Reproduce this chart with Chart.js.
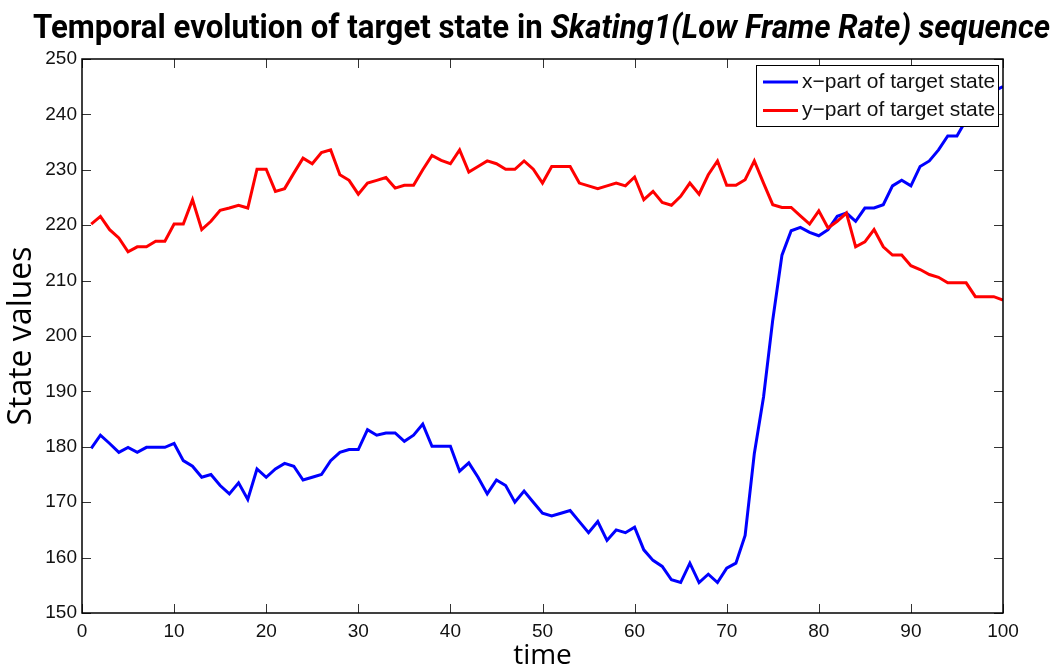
<!DOCTYPE html>
<html>
<head>
<meta charset="utf-8">
<script src="https://cdn.jsdelivr.net/npm/chart.js@4.4.1/dist/chart.umd.min.js"></script>
<style>
  html, body { margin: 0; padding: 0; background: #fff; }
</style>
</head>
<body>
<canvas id="myChart" width="1057" height="670"></canvas>
<script>
// frame index 1..100
let frames = Array.from({ length: 100 }, (_, i) => i + 1);

let xPart = [
  179.7, 182.1, 180.6, 179.0, 179.9, 179.0, 179.9, 179.9, 179.9, 180.6,
  177.5, 176.5, 174.5, 175.0, 173.0, 171.5, 173.5, 170.5, 176.0, 174.5,
  176.0, 177.0, 176.5, 174.0, 174.5, 175.0, 177.5, 179.0, 179.5, 179.5,
  183.1, 182.1, 182.5, 182.5, 181.0, 182.1, 184.1, 180.1, 180.1, 180.1,
  175.6, 177.1, 174.5, 171.5, 174.0, 173.0, 170.0, 172.0, 170.0, 168.0,
  167.5, 168.0, 168.5, 166.5, 164.5, 166.5, 163.1, 165.0, 164.5, 165.5,
  161.4, 159.5, 158.4, 156.0, 155.5, 159.0, 155.5, 157.0, 155.5, 158.1,
  159.0, 164.0, 178.8, 189.0, 202.9, 214.6, 219.0, 219.6, 218.7, 218.1,
  219.2, 221.6, 222.2, 220.7, 223.1, 223.1, 223.7, 227.1, 228.1, 227.1,
  230.6, 231.6, 233.6, 236.1, 236.1, 239.0, 241.0, 243.0, 244.2, 245.0
];

let yPart = [
  220.2, 221.6, 219.2, 217.7, 215.2, 216.1, 216.1, 217.1, 217.1, 220.2,
  220.2, 224.6, 219.2, 220.7, 222.7, 223.1, 223.6, 223.1, 230.1, 230.1,
  226.1, 226.6, 229.4, 232.1, 231.1, 233.1, 233.6, 229.1, 228.1, 225.6,
  227.6, 228.1, 228.6, 226.7, 227.2, 227.2, 230.0, 232.6, 231.7, 231.1,
  233.6, 229.6, 230.6, 231.6, 231.1, 230.1, 230.1, 231.6, 230.1, 227.6,
  230.6, 230.6, 230.6, 227.6, 227.1, 226.6, 227.1, 227.6, 227.1, 228.7,
  224.6, 226.1, 224.1, 223.6, 225.2, 227.6, 225.6, 229.1, 231.6, 227.2,
  227.2, 228.2, 231.6, 227.6, 223.7, 223.2, 223.2, 221.7, 220.2, 222.6,
  219.5, 220.7, 222.2, 216.1, 217.0, 219.2, 216.1, 214.6, 214.6, 212.7,
  212.0, 211.1, 210.6, 209.6, 209.6, 209.6, 207.1, 207.1, 207.1, 206.5
];

let titlePlain = "Temporal evolution of target state in ";
let titleItalic = "Skating1(Low Frame Rate) sequence";

let tickFont = { family: "Liberation Sans", size: 19 };
let legendFont = { family: "Liberation Sans", size: 21 };

function toPoints(values) {
  return values.map((v, i) => ({ x: frames[i], y: v }));
}

// two-style heading squeezed to the figure width
let headingPlugin = {
  id: "heading",
  afterDraw(chart) {
    let ctx = chart.ctx;
    ctx.save();
    ctx.fillStyle = "#000";
    ctx.textBaseline = "alphabetic";
    let size = 34;
    ctx.font = "bold " + size + "px Roboto";
    let w1 = ctx.measureText(titlePlain).width;
    ctx.font = "italic bold " + size + "px Roboto";
    let w2 = ctx.measureText(titleItalic).width;
    let sx = 1017 / (w1 + w2);
    ctx.translate(33, 38);
    ctx.scale(sx, 1);
    ctx.font = "bold " + size + "px Roboto";
    ctx.fillText(titlePlain, 0, 0);
    ctx.font = "italic bold " + size + "px Roboto";
    ctx.fillText(titleItalic, w1, 0);
    ctx.restore();
  }
};

// closed box with inward tick marks on all four sides, plus the legend
let boxPlugin = {
  id: "box",
  afterDraw(chart) {
    let ctx = chart.ctx;
    let a = chart.chartArea;
    let xs = chart.scales.x;
    let ys = chart.scales.y;
    let len = 9;
    ctx.save();
    ctx.strokeStyle = "#333";
    ctx.lineWidth = 1;
    ctx.beginPath();
    xs.ticks.forEach((t) => {
      let px = Math.round(xs.getPixelForValue(t.value)) + 0.5;
      ctx.moveTo(px, a.bottom);
      ctx.lineTo(px, a.bottom - len);
      ctx.moveTo(px, a.top);
      ctx.lineTo(px, a.top + len);
    });
    ys.ticks.forEach((t) => {
      let py = Math.round(ys.getPixelForValue(t.value)) + 0.5;
      ctx.moveTo(a.left, py);
      ctx.lineTo(a.left + len, py);
      ctx.moveTo(a.right, py);
      ctx.lineTo(a.right - len, py);
    });
    ctx.stroke();

    ctx.strokeStyle = "#000";
    ctx.lineWidth = 1.5;
    ctx.strokeRect(a.left, a.top, a.right - a.left, a.bottom - a.top);

    // legend in the upper right corner
    let lw = 242, lh = 61;
    let lx = a.right - 5 - lw;
    let ly = a.top + 6;
    ctx.fillStyle = "#fff";
    ctx.fillRect(lx, ly, lw, lh);
    ctx.strokeStyle = "#000";
    ctx.lineWidth = 1;
    ctx.strokeRect(lx + 0.5, ly + 0.5, lw, lh);
    ctx.font = legendFont.size + "px " + legendFont.family;
    ctx.textBaseline = "middle";
    chart.data.datasets.forEach((ds, i) => {
      let ry = ly + 17 + i * 28.5;
      ctx.strokeStyle = ds.borderColor;
      ctx.lineWidth = 3;
      ctx.beginPath();
      ctx.moveTo(lx + 7, ry);
      ctx.lineTo(lx + 42, ry);
      ctx.stroke();
      ctx.fillStyle = "#111";
      ctx.fillText(ds.label, lx + 46, ry);
    });
    ctx.restore();
  }
};

let ctx = document.getElementById("myChart").getContext("2d");
let myChart = new Chart(ctx, {
  type: "line",
  data: {
    datasets: [
      {
        label: "x\u2212part of target state",
        data: toPoints(xPart),
        borderColor: "#0000ff",
        backgroundColor: "#0000ff",
        borderWidth: 3,
        pointRadius: 0,
        tension: 0,
        order: 1,
      },
      {
        label: "y\u2212part of target state",
        data: toPoints(yPart),
        borderColor: "#ff0000",
        backgroundColor: "#ff0000",
        borderWidth: 3,
        pointRadius: 0,
        tension: 0,
        order: 0,
      },
    ],
  },
  options: {
    responsive: false,
    animation: false,
    layout: { padding: { top: 59, right: 54, left: 0, bottom: 0 } },
    plugins: {
      legend: { display: false },
      title: { display: false },
      tooltip: { enabled: false },
    },
    scales: {
      x: {
        type: "linear",
        min: 0,
        max: 100,
        ticks: { stepSize: 10, color: "#111", font: tickFont, padding: 7, maxRotation: 0 },
        grid: { display: false, drawTicks: false },
        border: { display: false },
        title: {
          display: true,
          text: "time",
          color: "#000",
          font: { family: "Open Sans", size: 28, lineHeight: 1 },
          padding: { top: 0, bottom: 0 },
        },
        afterFit: (scale) => { scale.height = 57; },
      },
      y: {
        type: "linear",
        min: 150,
        max: 250,
        ticks: { stepSize: 10, color: "#111", font: tickFont, padding: 5 },
        grid: { display: false, drawTicks: false },
        border: { display: false },
        title: {
          display: true,
          text: "State values",
          color: "#000",
          font: { family: "Open Sans", size: 32, lineHeight: 1 },
          padding: { top: 6, bottom: 0 },
        },
        afterFit: (scale) => { scale.width = 82; },
      },
    },
  },
  plugins: [headingPlugin, boxPlugin],
});
</script>
</body>
</html>
